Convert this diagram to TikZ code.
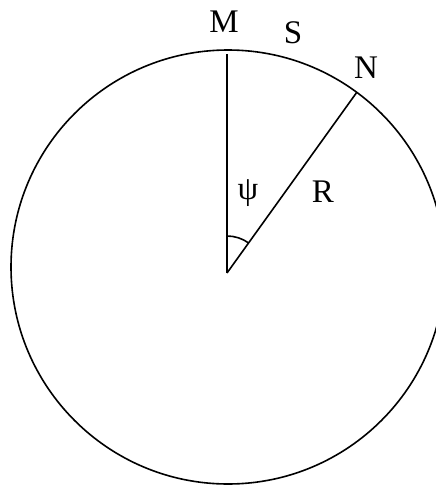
\documentclass[tikz,border=0pt]{standalone}
\usepackage{fontspec}
\setmainfont{Liberation Serif}
\usetikzlibrary{calc}
\begin{document}
\begin{tikzpicture}[x=1pt,y=-1pt,
  ln/.style={line width=1.6pt},
  lbl/.style={font=\fontsize{33}{37}\selectfont, inner sep=0pt}]
\useasboundingbox (0,0) rectangle (436,487);
\clip (0,0) rectangle (436,487);
\coordinate (O) at (227,273);
\coordinate (Mtop) at (227,54);
\coordinate (Nend) at (357,92);
\draw[ln] (228,267) circle (217);
\draw[ln] (O) -- (Mtop);
\draw[ln] (O) -- (Nend);
\draw[ln] ($(O)+(0,-37)$) arc[start angle=-90, end angle=-54, radius=37];
\node[lbl] (M) at (224,22) {M};
\node[lbl] (S) at (293,33) {S};
\node[lbl] (N) at (366,68) {N};
\node[lbl] (psi) at (248,193) {ψ};
\node[lbl] (R) at (323,192) {R};
\end{tikzpicture}
\end{document}
